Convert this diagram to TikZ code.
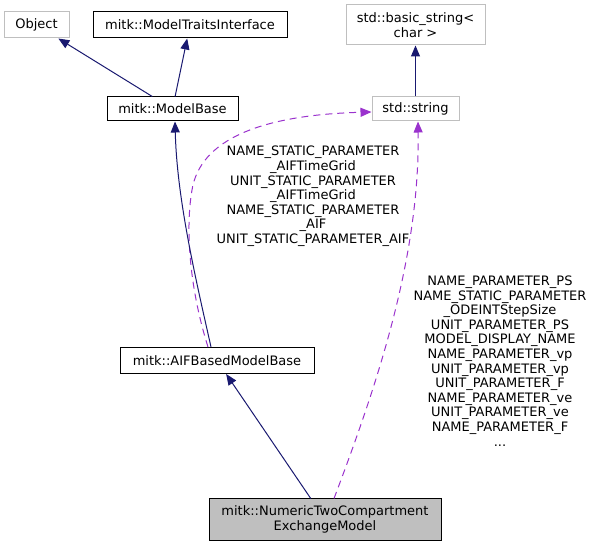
\documentclass[tikz,border=0pt]{standalone}
\usepackage{fontspec}
\setmainfont{DejaVu Sans}
\usetikzlibrary{arrows.meta}
\definecolor{edgeblue}{HTML}{191970}
\definecolor{edgepurple}{HTML}{9A32CD}
\definecolor{boxgray}{HTML}{BFBFBF}

\begin{document}
\begin{tikzpicture}[x=1pt,y=-1pt,
  every node/.style={font=\fontsize{13}{14.6}\selectfont, inner sep=0pt, align=center},
  cls/.style={draw=black, line width=1pt, fill=white, minimum height=25pt},
  ext/.style={draw=boxgray, line width=1pt, fill=white, minimum height=25pt},
  focus/.style={draw=black, line width=1pt, fill=boxgray},
  inherit/.style={edgeblue, line width=1pt, -{Triangle[length=11pt,width=9pt]}},
  uses/.style={edgepurple, line width=1pt, dash pattern=on 7pt off 5pt, -{Triangle[length=11pt,width=9pt]}}]
%\draw[step=10pt,gray,very thin] (0,0) grid (595,545); %grid lines
\useasboundingbox (0,0) rectangle (595,545);

\node[ext, minimum width=65pt, minimum height=26pt] (obj) at (36.5,25) {Object};
\node[cls, minimum width=194pt, minimum height=26pt] (mti) at (190,25) {mitk::ModelTraitsInterface};
\node[ext, minimum width=139pt, minimum height=40pt] (bstr) at (415.5,25) {std::basic\_string<\\char >};

\node[cls, minimum width=131pt, minimum height=24pt] (mb) at (172.5,109) {mitk::ModelBase};
\node[ext, minimum width=87pt, minimum height=24pt] (str) at (415.5,109) {std::string};

\node[cls, minimum width=194pt, minimum height=26pt] (aif) at (217,360.5) {mitk::AIFBasedModelBase};
\node[focus, minimum width=232pt, minimum height=41pt] (num) at (325,519.5) {mitk::NumericTwoCompartment\\ExchangeModel};

\node (lbla) at (313,196.5) {NAME\_STATIC\_PARAMETER\\\_AIFTimeGrid\\UNIT\_STATIC\_PARAMETER\\\_AIFTimeGrid\\NAME\_STATIC\_PARAMETER\\\_AIF\\UNIT\_STATIC\_PARAMETER\_AIF};
\node (lblb) at (500,361) {NAME\_PARAMETER\_PS\\NAME\_STATIC\_PARAMETER\\\_ODEINTStepSize\\UNIT\_PARAMETER\_PS\\MODEL\_DISPLAY\_NAME\\NAME\_PARAMETER\_vp\\UNIT\_PARAMETER\_vp\\UNIT\_PARAMETER\_F\\NAME\_PARAMETER\_ve\\UNIT\_PARAMETER\_ve\\NAME\_PARAMETER\_F\\...};

\draw[inherit] (mb) -- (obj);
\draw[inherit] (mb) -- (mti);
\draw[inherit] (str) -- (bstr);
\draw[uses] ([xshift=-9pt]aif.north) .. controls (190,290) and (185,230) .. (192,190)
  .. controls (200,140) and (260,115) .. ([yshift=-3pt]str.west);
\draw[inherit] ([xshift=-6pt]aif.north) .. controls (196,280) and (177,200) .. ([xshift=2.5pt]mb.south);
\draw[inherit] (num) -- (aif);
\draw[uses] ([xshift=9pt]num.north) .. controls (375,390) and (420,260) .. ([xshift=2.5pt]str.south);
\end{tikzpicture}
\end{document}
